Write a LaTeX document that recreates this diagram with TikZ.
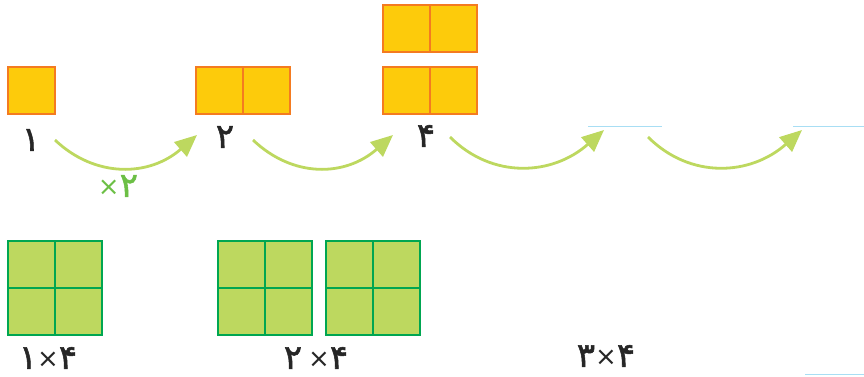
\documentclass[tikz,border=0pt]{standalone}
\usepackage{fontspec}
\newfontfamily\arabicfont[Script=Arabic,FakeBold=1.6]{DejaVu Sans}
\newfontfamily\timesfont{DejaVu Sans}
\usetikzlibrary{arrows.meta,calc}
\definecolor{sqfill}{HTML}{FDCB0B}
\definecolor{sqline}{HTML}{F47B20}
\definecolor{grfill}{HTML}{BDD85F}
\definecolor{grline}{HTML}{00A651}
\definecolor{arr}{HTML}{BDD85F}
\definecolor{blank}{HTML}{A8DEF4}
\definecolor{timesgreen}{HTML}{6CBF45}
\newcommand\pdig[1]{\mbox{\arabicfont\fontsize{34}{36}\selectfont #1}}
\newcommand\ptms{\mbox{\timesfont\fontsize{26}{28}\selectfont\raisebox{1pt}{×}}}
\tikzset{
  osq/.style={draw=sqline,fill=sqfill,line width=1.5pt,minimum width=47pt,minimum height=47pt,inner sep=0pt,outer sep=0pt},
  gsq/.style={draw=grline,fill=grfill,line width=1.6pt,minimum width=47pt,minimum height=47pt,inner sep=0pt,outer sep=0pt},
  num/.style={text=black!85,inner sep=0pt},
  jump/.style={draw=arr,line width=2.8pt,-{Triangle[length=22pt,width=19pt]}},
  blankline/.style={draw=blank,line width=1pt}
}
\begin{document}
\begin{tikzpicture}[x=1pt,y=-1pt]
\useasboundingbox (0,0) rectangle (864,376);
% orange squares
\node[osq] (o1) at (31.5,90.5) {};
\node[osq] (o2a) at (219.5,90.5) {};
\node[osq] (o2b) at (266.5,90.5) {};
\node[osq] (o4a) at (406.5,90.5) {};
\node[osq] (o4b) at (453.5,90.5) {};
\node[osq] (o4c) at (406.5,28.5) {};
\node[osq] (o4d) at (453.5,28.5) {};
% labels
\node[num] (n1) at (31,140) {\pdig{۱}};
\node[num] (n2) at (225,137) {\pdig{۲}};
\node[num] (n4) at (426,136) {\pdig{۴}};
\node[num,text=timesgreen] (t2) at (118,186) {\ptms\pdig{۲}};
% blanks
\coordinate (b1s) at (588,126); \coordinate (b1e) at (662,126);
\coordinate (b2s) at (793,126); \coordinate (b2e) at (864,126);
\coordinate (b3s) at (805,374); \coordinate (b3e) at (864,374);
\draw[blankline] (b1s) -- (b1e);
\draw[blankline] (b2s) -- (b2e);
\draw[blankline] (b3s) -- (b3e);
% arrows
\coordinate (a1s) at (55,140); \coordinate (a1e) at (197,135);
\coordinate (a2s) at (253,140); \coordinate (a2e) at (393,135);
\coordinate (a3s) at (450,137); \coordinate (a3e) at (604,130);
\coordinate (a4s) at (648,137); \coordinate (a4e) at (802,130);
\draw[jump] (a1s) .. controls ($(a1s)+(40,38)$) and ($(a1e)+(-48,42)$) .. (a1e);
\draw[jump] (a2s) .. controls ($(a2s)+(40,38)$) and ($(a2e)+(-48,42)$) .. (a2e);
\draw[jump] (a3s) .. controls ($(a3s)+(42,42)$) and ($(a3e)+(-52,46)$) .. (a3e);
\draw[jump] (a4s) .. controls ($(a4s)+(42,42)$) and ($(a4e)+(-52,46)$) .. (a4e);
% green grids
\foreach \cx/\nm in {31.5/g1,241.5/g2,349.5/g3}{
  \node[gsq] (\nm a) at (\cx,264.5) {};
  \node[gsq] (\nm b) at (\cx+47,264.5) {};
  \node[gsq] (\nm c) at (\cx,311.5) {};
  \node[gsq] (\nm d) at (\cx+47,311.5) {};
}
\node[num] (l1) at (48,358) {\pdig{۱}\ptms\pdig{۴}};
\node[num] (l2) at (316,358) {\pdig{۲}\hspace{6pt}\ptms\pdig{۴}};
\node[num] (l3) at (606,356) {\pdig{۳}\ptms\pdig{۴}};
\end{tikzpicture}
\end{document}
